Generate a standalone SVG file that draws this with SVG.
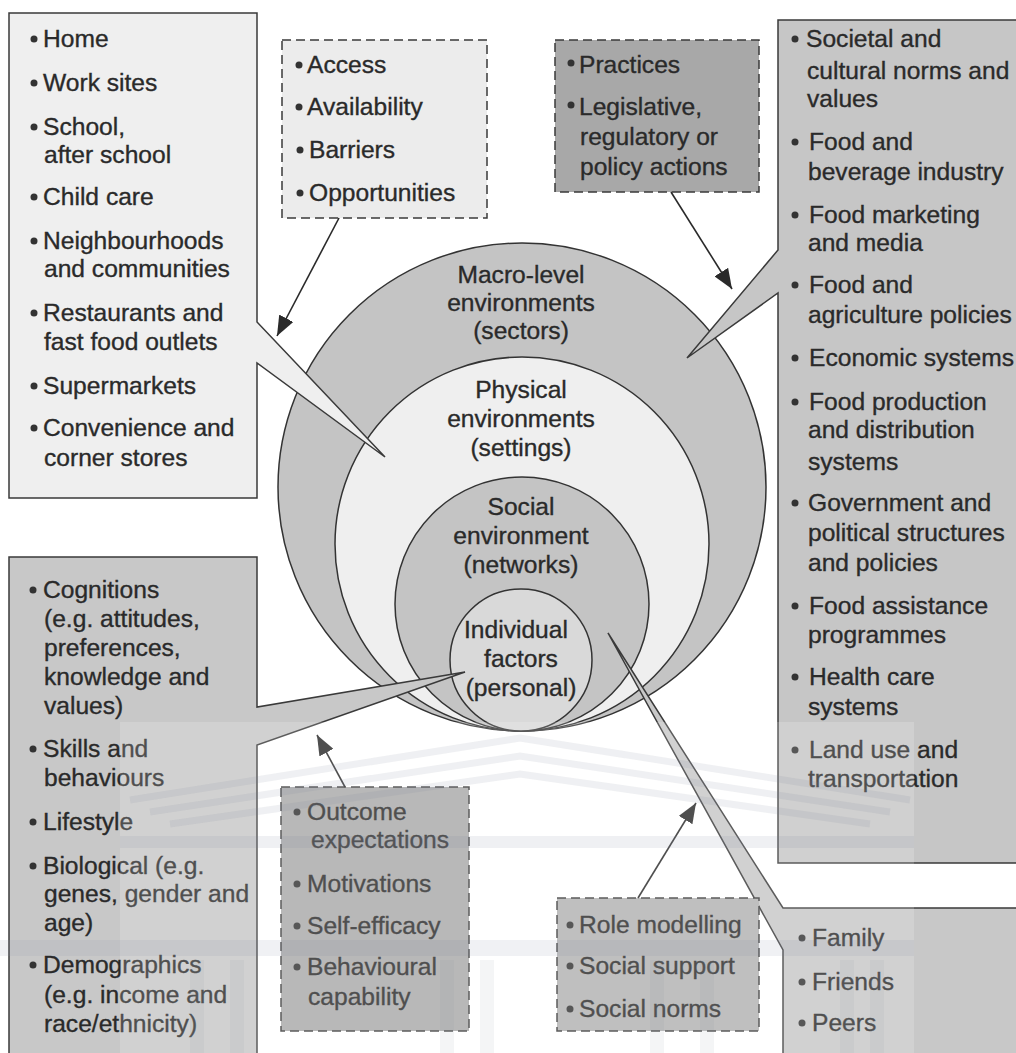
<svg xmlns="http://www.w3.org/2000/svg" width="1016" height="1053" viewBox="0 0 1016 1053">
<style>
.t{font-family:"Liberation Sans",Arial,sans-serif;font-size:24.6px;fill:#2a2a2a;stroke:#2a2a2a;stroke-width:0.35}
.c{text-anchor:middle}
.ln{stroke:#333;stroke-width:1.5}
.box{stroke:#3a3a3a;stroke-width:1.5}
.dash{stroke:#3a3a3a;stroke-width:1.5;stroke-dasharray:9 5}
.b{fill:#333}
.arr{stroke:#2a2a2a;stroke-width:1.6;fill:none;marker-end:url(#ah)}
</style>
<defs>
<marker id="ah" viewBox="0 0 20 16" refX="20" refY="8" markerWidth="20" markerHeight="16" markerUnits="userSpaceOnUse" orient="auto">
<path d="M0,0 L20,8 L0,16 Z" fill="#2a2a2a"/>
</marker>
</defs>
<rect width="1016" height="1053" fill="#fff"/>

<g id="circles">
<circle id="macro" cx="522" cy="487" r="244" fill="#c4c4c4" class="ln"/>
<circle id="physical" cx="522" cy="544" r="187" fill="#efefef" class="ln"/>
<circle id="social" cx="522" cy="604" r="127" fill="#c4c4c4" class="ln"/>
<circle id="individual" cx="521" cy="660" r="71" fill="#d9d9d9" class="ln"/>
<text class="t c" x="521"><tspan x="521" y="283">Macro-level</tspan><tspan x="521" y="311">environments</tspan><tspan x="521" y="339">(sectors)</tspan></text>
<text class="t c" x="521"><tspan x="521" y="398">Physical</tspan><tspan x="521" y="427">environments</tspan><tspan x="521" y="456">(settings)</tspan></text>
<text class="t c" x="521"><tspan x="521" y="515">Social</tspan><tspan x="521" y="544">environment</tspan><tspan x="521" y="573">(networks)</tspan></text>
<text class="t c" x="520"><tspan x="516" y="638">Individual</tspan><tspan x="521" y="667">factors</tspan><tspan x="521" y="696">(personal)</tspan></text>
</g>

<g id="box-settings">
<path class="box" fill="#efefef" d="M9,13 H257 V322 L385,457 L257,363 V498 H9 Z"/>
<g class="b"><circle cx="34" cy="39" r="3.5"/><circle cx="34" cy="83" r="3.5"/><circle cx="34" cy="127" r="3.5"/><circle cx="34" cy="197" r="3.5"/><circle cx="34" cy="241" r="3.5"/><circle cx="34" cy="313" r="3.5"/><circle cx="34" cy="386" r="3.5"/><circle cx="34" cy="428" r="3.5"/></g>
<text class="t"><tspan x="43" y="47">Home</tspan><tspan x="43" y="91">Work sites</tspan><tspan x="43" y="135">School,</tspan><tspan x="44" y="163">after school</tspan><tspan x="43" y="205">Child care</tspan><tspan x="43" y="249">Neighbourhoods</tspan><tspan x="44" y="277">and communities</tspan><tspan x="43" y="321">Restaurants and</tspan><tspan x="44" y="350">fast food outlets</tspan><tspan x="43" y="394">Supermarkets</tspan><tspan x="43" y="436">Convenience and</tspan><tspan x="44" y="466">corner stores</tspan></text>
</g>

<g id="box-access">
<rect class="dash" fill="#ececec" x="282" y="40" width="205" height="178"/>
<g class="b"><circle cx="299" cy="65" r="3.5"/><circle cx="299" cy="107" r="3.5"/><circle cx="300" cy="150" r="3.5"/><circle cx="300" cy="193" r="3.5"/></g>
<text class="t"><tspan x="307" y="73">Access</tspan><tspan x="307" y="115">Availability</tspan><tspan x="309" y="158">Barriers</tspan><tspan x="309" y="201">Opportunities</tspan></text>
</g>

<g id="box-practices">
<rect class="dash" fill="#a8a8a8" x="555" y="40" width="204" height="152"/>
<g class="b"><circle cx="571" cy="63" r="3.5"/><circle cx="571" cy="105" r="3.5"/></g>
<text class="t"><tspan x="579" y="73">Practices</tspan><tspan x="579" y="115">Legislative,</tspan><tspan x="580" y="145">regulatory or</tspan><tspan x="580" y="175">policy actions</tspan></text>
</g>

<g id="box-sectors">
<path class="box" fill="#c6c6c6" d="M778,20 H1022 V863 H778 V293 L687,358 L778,250 Z"/>
<g class="b"><circle cx="795" cy="39" r="3.5"/><circle cx="795" cy="142" r="3.5"/><circle cx="795" cy="215" r="3.5"/><circle cx="795" cy="285" r="3.5"/><circle cx="795" cy="358" r="3.5"/><circle cx="795" cy="402" r="3.5"/><circle cx="795" cy="503" r="3.5"/><circle cx="795" cy="606" r="3.5"/><circle cx="795" cy="677" r="3.5"/><circle cx="795" cy="750" r="3.5"/></g>
<text class="t"><tspan x="806" y="47">Societal and</tspan><tspan x="807" y="79">cultural norms and</tspan><tspan x="807" y="107">values</tspan><tspan x="809" y="150">Food and</tspan><tspan x="808" y="180">beverage industry</tspan><tspan x="809" y="223">Food marketing</tspan><tspan x="808" y="251">and media</tspan><tspan x="809" y="293">Food and</tspan><tspan x="808" y="323">agriculture policies</tspan><tspan x="809" y="366">Economic systems</tspan><tspan x="809" y="410">Food production</tspan><tspan x="808" y="438">and distribution</tspan><tspan x="808" y="470">systems</tspan><tspan x="808" y="511">Government and</tspan><tspan x="808" y="541">political structures</tspan><tspan x="808" y="571">and policies</tspan><tspan x="809" y="614">Food assistance</tspan><tspan x="808" y="643">programmes</tspan><tspan x="809" y="685">Health care</tspan><tspan x="808" y="715">systems</tspan><tspan x="809" y="758">Land use and</tspan><tspan x="808" y="787">transportation</tspan></text>
</g>

<g id="box-individual">
<path class="box" fill="#c8c8c8" d="M9,557 H257 V707 L465,672 L257,745 V1060 H9 Z"/>
<g class="b"><circle cx="33" cy="590" r="3.5"/><circle cx="33" cy="749" r="3.5"/><circle cx="33" cy="822" r="3.5"/><circle cx="33" cy="866" r="3.5"/><circle cx="33" cy="965" r="3.5"/></g>
<text class="t"><tspan x="43" y="598">Cognitions</tspan><tspan x="44" y="627">(e.g. attitudes,</tspan><tspan x="44" y="656">preferences,</tspan><tspan x="44" y="685">knowledge and</tspan><tspan x="44" y="714">values)</tspan><tspan x="43" y="757">Skills and</tspan><tspan x="44" y="786">behaviours</tspan><tspan x="43" y="830">Lifestyle</tspan><tspan x="43" y="874">Biological (e.g.</tspan><tspan x="44" y="902">genes, gender and</tspan><tspan x="44" y="931">age)</tspan><tspan x="43" y="973">Demographics</tspan><tspan x="44" y="1003">(e.g. income and</tspan><tspan x="44" y="1032">race/ethnicity)</tspan></text>
</g>

<g id="box-networks">
<path class="box" fill="#c8c8c8" d="M783,1060 V950 L608,633 L783,908 H1022 V1060 Z"/>
<g class="b"><circle cx="802" cy="938" r="3.5"/><circle cx="802" cy="982" r="3.5"/><circle cx="802" cy="1023" r="3.5"/></g>
<text class="t"><tspan x="812" y="946">Family</tspan><tspan x="812" y="990">Friends</tspan><tspan x="812" y="1031">Peers</tspan></text>
</g>

<g id="box-outcome">
<rect class="dash" fill="#a9a9a9" x="281" y="787" width="188" height="244"/>
<g class="b"><circle cx="297" cy="812" r="3.5"/><circle cx="297" cy="884" r="3.5"/><circle cx="297" cy="926" r="3.5"/><circle cx="297" cy="967" r="3.5"/></g>
<text class="t"><tspan x="307" y="820">Outcome</tspan><tspan x="311" y="848">expectations</tspan><tspan x="307" y="892">Motivations</tspan><tspan x="307" y="934">Self-efficacy</tspan><tspan x="307" y="975">Behavioural</tspan><tspan x="308" y="1005">capability</tspan></text>
</g>

<g id="box-social">
<rect class="dash" fill="#b2b2b2" x="557" y="898" width="202" height="133"/>
<g class="b"><circle cx="570" cy="925" r="3.5"/><circle cx="570" cy="966" r="3.5"/><circle cx="570" cy="1009" r="3.5"/></g>
<text class="t"><tspan x="579" y="933">Role modelling</tspan><tspan x="579" y="974">Social support</tspan><tspan x="579" y="1017">Social norms</tspan></text>
</g>

<g id="connectors">
<line class="arr" x1="339" y1="218" x2="277" y2="336"/>
<line class="arr" x1="671" y1="192" x2="732" y2="289"/>
<line class="arr" x1="345" y1="787" x2="317" y2="735"/>
<line class="arr" x1="638" y1="898" x2="696" y2="803"/>
</g>

<g id="watermark" opacity="0.45">
<rect x="120" y="722" width="794" height="331" fill="#ffffff" opacity="0.4"/>
<g fill="none" stroke="#9aa0ae" stroke-width="7" opacity="0.35">
<polyline points="130,800 520,738 910,800"/>
<polyline points="150,812 520,756 890,812"/>
<polyline points="170,824 520,774 870,824"/>
</g>
<rect x="120" y="836" width="794" height="12" fill="#9aa0ae" opacity="0.35"/>
<rect x="0" y="940" width="914" height="16" fill="#8f96b0" opacity="0.3"/>
<g fill="#9aa0ae" opacity="0.25">
<rect x="190" y="960" width="14" height="93"/><rect x="230" y="960" width="14" height="93"/>
<rect x="440" y="960" width="14" height="93"/><rect x="480" y="960" width="14" height="93"/>
<rect x="650" y="960" width="14" height="93"/><rect x="700" y="960" width="14" height="93"/>
<rect x="840" y="960" width="14" height="93"/><rect x="870" y="960" width="14" height="93"/>
</g>
</g>
</svg>
